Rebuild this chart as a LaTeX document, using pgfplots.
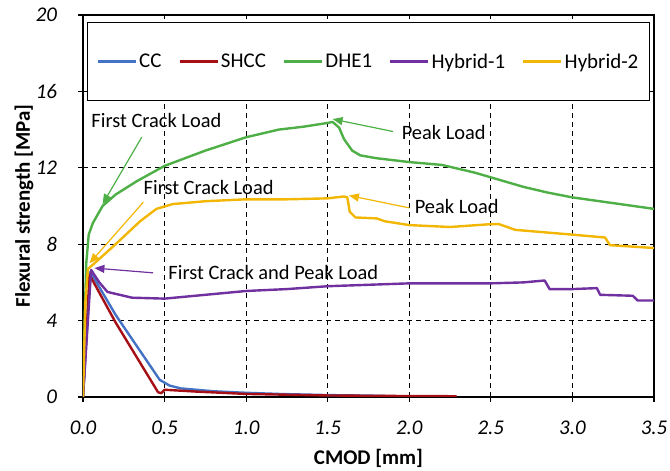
\documentclass[border=0pt]{standalone}
\usepackage{pgfplots}
\pgfplotsset{compat=1.18}
\usepackage{fontspec}
\setmainfont{Carlito}
\usetikzlibrary{arrows.meta}
\definecolor{ccblue}{HTML}{4472C4}
\definecolor{shred}{HTML}{A50F15}
\definecolor{dhegreen}{HTML}{4EAF47}
\definecolor{hypurple}{HTML}{7030A0}
\definecolor{hyyellow}{HTML}{F2B705}
\begin{document}
\begin{tikzpicture}
\begin{axis}[
  width=571bp, height=382bp, scale only axis,
  xmin=0, xmax=3.5, ymin=0, ymax=20,
  xtick={0,0.5,...,3.5}, ytick={0,4,...,20},
  xtick pos=bottom, ytick pos=left,
  grid=major,
  major grid style={black, line width=0.9bp, dash pattern=on 5bp off 4bp},
  axis line style={black, line width=1.1bp},
  tick style={black, line width=1.1bp},
  tick align=center, major tick length=9bp,
  /pgf/number format/assume math mode=true,
  xticklabel style={yshift=-16bp, /pgf/number format/.cd, fixed, fixed zerofill, precision=1},
  yticklabel style={xshift=-18bp},
  ticklabel style={font=\fontsize{21}{24}\selectfont\itshape},
  xlabel={CMOD [mm]}, ylabel={Flexural strength [MPa]},
  label style={font=\fontsize{21}{24}\selectfont\bfseries},
  xlabel style={at={([yshift=-61bp]axis description cs:0.5,0)}, anchor=center},
  ylabel style={at={([xshift=-59bp]axis description cs:0,0.5)}, anchor=center},
  legend columns=5,
  legend cell align=left,
  legend style={at={(rel axis cs:0.5,1)}, anchor=north, yshift=-7bp,
    draw=black, line width=1.1bp, fill=white,
    font=\fontsize{21}{24}\selectfont,
    inner xsep=9bp, inner ysep=29bp,
    /tikz/every even column/.append style={column sep=15bp}},
  legend image code/.code={\draw[#1, line width=2.5bp] (0bp,0bp) -- (38bp,0bp);},
  every axis plot/.append style={line width=2.4bp, line join=round},
]
\addplot[ccblue] coordinates {
(0,0) (0.045,6.55) (0.2,4.3) (0.47,0.9) (0.53,0.6) (0.6,0.45) (0.8,0.3) (1.0,0.22) (1.2,0.16) (1.5,0.1) (1.85,0.06)};
\addlegendentry{CC}
\addplot[shred] coordinates {
(0,0) (0.04,6.4) (0.2,3.9) (0.46,0.25) (0.48,0.2) (0.5,0.38) (0.7,0.28) (1.0,0.16) (1.5,0.08) (2.0,0.05) (2.29,0.04)};
\addlegendentry{SHCC}
\addplot[dhegreen] coordinates {
(0,0) (0.01,4) (0.02,7) (0.035,8.5) (0.06,9.1) (0.12,10.0) (0.2,10.6) (0.33,11.3) (0.5,12.1) (0.75,12.9) (1.0,13.6) (1.2,14.0) (1.35,14.15) (1.5,14.35) (1.53,14.4) (1.57,14.1) (1.6,13.5) (1.65,12.9) (1.7,12.65) (1.8,12.5) (2.0,12.3) (2.2,12.15) (2.4,11.75) (2.5,11.5) (2.7,11.0) (2.85,10.7) (3.0,10.45) (3.25,10.15) (3.5,9.85)};
\addlegendentry{DHE1}
\addplot[hypurple] coordinates {
(0,0) (0.05,6.65) (0.1,6.0) (0.15,5.5) (0.3,5.2) (0.5,5.15) (0.75,5.35) (1.0,5.55) (1.25,5.65) (1.5,5.8) (2.0,5.95) (2.5,5.95) (2.7,6.0) (2.83,6.1) (2.86,5.65) (3.0,5.65) (3.15,5.7) (3.17,5.35) (3.37,5.3) (3.4,5.05) (3.5,5.05)};
\addlegendentry{Hybrid-1}
\addplot[hyyellow] coordinates {
(0,0) (0.015,5) (0.03,6.7) (0.07,7.0) (0.2,8.0) (0.35,9.2) (0.45,9.85) (0.55,10.1) (0.75,10.25) (1.0,10.35) (1.25,10.35) (1.5,10.4) (1.6,10.5) (1.62,10.45) (1.635,9.7) (1.67,9.4) (1.8,9.35) (1.85,9.2) (2.0,9.0) (2.25,8.9) (2.5,9.05) (2.55,9.05) (2.65,8.75) (3.0,8.5) (3.2,8.35) (3.23,7.95) (3.5,7.8)};
\addlegendentry{Hybrid-2}
% annotations
\begin{scope}[font=\fontsize{20.5}{24}\selectfont, line width=1.2bp]
\draw[dhegreen, -{Triangle[length=10bp,width=8bp]}] (axis cs:0.36,13.6) -- (axis cs:0.12,10.1);
\node[anchor=center] at (axis cs:0.45,14.5) {First Crack Load};
\draw[hyyellow, -{Triangle[length=10bp,width=8bp]}] (axis cs:0.37,10.2) -- (axis cs:0.04,7.0);
\node[anchor=center] at (axis cs:0.77,10.95) {First Crack Load};
\draw[hypurple, -{Triangle[length=10bp,width=8bp]}] (axis cs:0.43,6.5) -- (axis cs:0.07,6.75);
\node[anchor=west] at (axis cs:0.5,6.5) {First Crack and Peak Load};
\draw[dhegreen, -{Triangle[length=10bp,width=8bp]}] (axis cs:1.9,13.9) -- (axis cs:1.53,14.55);
\node[anchor=west] at (axis cs:1.93,13.85) {Peak Load};
\draw[hyyellow, -{Triangle[length=10bp,width=8bp]}] (axis cs:2.0,9.9) -- (axis cs:1.63,10.55);
\node[anchor=west] at (axis cs:2.01,9.95) {Peak Load};
\end{scope}
\coordinate (bl) at ([xshift=-83bp,yshift=-74bp]rel axis cs:0,0);
\coordinate (tr) at ([xshift=16bp,yshift=15bp]rel axis cs:1,1);
\end{axis}
\pgfresetboundingbox
\path[use as bounding box] (bl) rectangle (tr);
\end{tikzpicture}
\end{document}
